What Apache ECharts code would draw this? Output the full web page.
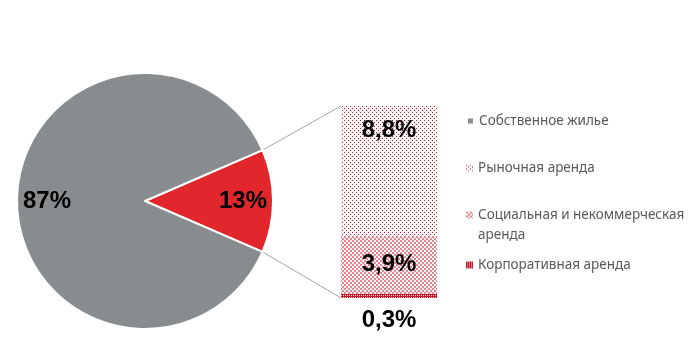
<!DOCTYPE html>
<html>
<head>
<meta charset="utf-8">
<script src="https://cdn.jsdelivr.net/npm/echarts@6/dist/echarts.min.js"></script>
<style>
html,body{margin:0;padding:0;background:#fff;}
#chart{width:698px;height:351px;}
</style>
</head>
<body>
<div id="chart"></div>
<script>
// ---- data ----
var pieNames = ['Аренда', 'Собственное жилье'];
var pieValues = [13, 87];
var barNames = ['Корпоративная аренда', 'Социальная и некоммерческая аренда', 'Рыночная аренда'];
var barValues = [0.3, 3.9, 8.8];
var legendNames = ['Собственное жилье', 'Рыночная аренда', 'Социальная и некоммерческая аренда', 'Корпоративная аренда'];

// ---- layout / style ----
var CX = 145, CY = 201, R = 128;
var GRID = {left: 341, top: 106, width: 96, height: 192};
var GRAY = '#898c8f', RED = '#e1272b';

function makePattern(size, bg, draw) {
  var c = document.createElement('canvas');
  c.width = size; c.height = size;
  var ctx = c.getContext('2d');
  ctx.fillStyle = bg; ctx.fillRect(0, 0, size, size);
  draw(ctx);
  return {image: c, repeat: 'repeat'};
}
var patMarket = makePattern(4, '#fdf2f3', function (ctx) {
  ctx.fillStyle = '#8e2a38'; ctx.fillRect(0, 0, 1, 1); ctx.fillRect(2, 2, 1, 1);
});
var patSocial = makePattern(4, '#fdf4f5', function (ctx) {
  ctx.fillStyle = '#e68692'; ctx.fillRect(0, 0, 2, 2); ctx.fillRect(2, 2, 2, 2);
});
var patCorp = makePattern(2, '#c4182c', function (ctx) {
  ctx.fillStyle = '#f4c8cc'; ctx.fillRect(1, 1, 1, 1);
});
var barPatterns = [patCorp, patSocial, patMarket];

var pieTotal = pieValues.reduce(function (a, b) { return a + b; }, 0);
var startAngle = pieValues[0] / pieTotal * 360 / 2;

function fmtComma(v) { return v.toFixed(1).replace('.', ',') + '%'; }

var labelFont = {fontFamily: 'Liberation Sans', fontWeight: 'bold', fontSize: 24, color: '#000'};

var series = [];
series.push({
  type: 'pie', center: [CX, CY], radius: R, startAngle: startAngle, clockwise: true,
  label: {show: false}, labelLine: {show: false}, silent: true,
  itemStyle: {borderColor: '#fff', borderWidth: 2},
  data: pieNames.map(function (n, i) {
    return {name: n, value: pieValues[i], itemStyle: {color: i === 0 ? RED : GRAY}};
  })
});
series.push({
  type: 'pie', center: [CX, CY], radius: [62, R], startAngle: startAngle, clockwise: true,
  silent: true, itemStyle: {color: 'rgba(0,0,0,0)'}, labelLine: {show: false},
  label: Object.assign({show: true, position: 'inside', formatter: function (p) { return p.value + '%'; }}, labelFont),
  data: pieNames.map(function (n, i) { return {name: n, value: pieValues[i]}; })
});
var barLabelPos = [
  {position: 'bottom', distance: 10},
  {position: 'inside'},
  {position: 'insideTop', distance: 12}
];
barNames.forEach(function (n, i) {
  series.push({
    type: 'bar', name: n, stack: 'rent', barWidth: '100%', silent: true,
    itemStyle: {color: barPatterns[i]},
    label: Object.assign({show: true, formatter: function (p) { return fmtComma(p.value); }}, labelFont, barLabelPos[i]),
    data: [barValues[i]]
  });
});

var legendTops = [111, 158, 185, 255];
var legends = legendNames.map(function (n, i) {
  return {
    data: [n], orient: 'vertical', left: 466, top: legendTops[i], padding: 0,
    itemWidth: 7, itemHeight: 7, icon: 'rect', selectedMode: false,
    textStyle: {fontFamily: 'Noto Sans', fontSize: 13.5, color: '#595959', lineHeight: 20},
    formatter: function (name) {
      return name === 'Социальная и некоммерческая аренда' ? '\nСоциальная и некоммерческая\nаренда' : name;
    }
  };
});

var chart = echarts.init(document.getElementById('chart'), null, {renderer: 'canvas'});
chart.setOption({
  animation: false,
  backgroundColor: '#fff',
  grid: GRID,
  xAxis: {type: 'category', data: ['Аренда'], show: false},
  yAxis: {type: 'value', min: 0, max: 13, show: false},
  legend: legends,
  series: series
});

// connector lines from pie slice edges to bar corners
var half = startAngle * Math.PI / 180;
var barTotal = barValues.reduce(function (a, b) { return a + b; }, 0);
var yTop = chart.convertToPixel({yAxisIndex: 0}, barTotal);
var yBot = chart.convertToPixel({yAxisIndex: 0}, 0);
var p1 = [CX + R * Math.cos(half), CY - R * Math.sin(half)];
var p2 = [CX + R * Math.cos(half), CY + R * Math.sin(half)];
chart.setOption({
  graphic: [
    {type: 'line', shape: {x1: p1[0], y1: p1[1], x2: GRID.left, y2: yTop}, style: {stroke: '#a6a6a6', lineWidth: 1}, silent: true},
    {type: 'line', shape: {x1: p2[0], y1: p2[1], x2: GRID.left, y2: yBot}, style: {stroke: '#a6a6a6', lineWidth: 1}, silent: true}
  ]
});
</script>
</body>
</html>
